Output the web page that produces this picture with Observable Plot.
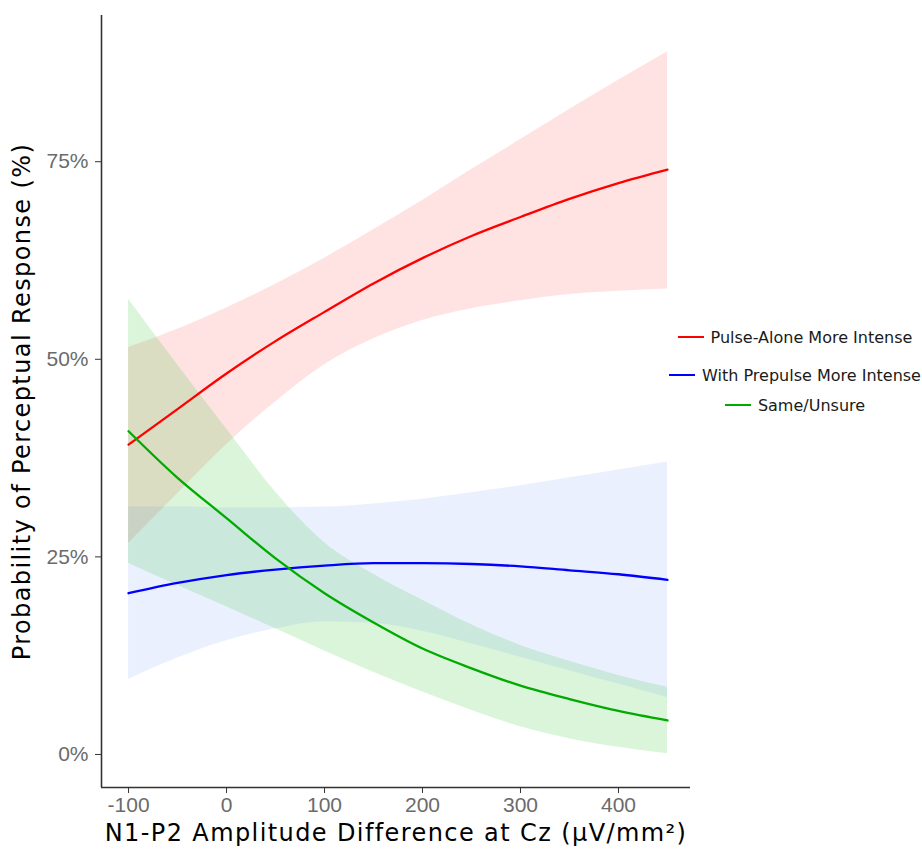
<!DOCTYPE html>
<html>
<head>
<meta charset="utf-8">
<script src="https://cdn.jsdelivr.net/npm/d3@7"></script>
<script src="https://cdn.jsdelivr.net/npm/@observablehq/plot@0.6"></script>
<style>
  html, body { margin: 0; padding: 0; background: #fff; }
  #wrap { position: relative; width: 922px; height: 850px; }
  #legend { position: absolute; left: 645px; top: 327px; width: 300px; display: flex; flex-direction: column; align-items: center; font-family: "DejaVu Sans", Verdana, sans-serif; font-size: 16px; color: #1a1a1a; }
  .item { display: flex; align-items: center; height: 20px; white-space: nowrap; }
  .swatch { width: 26px; height: 2.5px; margin-right: 7px; }
  g[aria-label="text"] text { letter-spacing: 1.4px; }
</style>
</head>
<body>
<div id="wrap"><div id="legend"></div></div>
<script>
const xs = [-100, -50, 0, 50, 100, 150, 200, 250, 300, 350, 400, 450];

const seriesNames = ["Pulse-Alone More Intense", "With Prepulse More Intense", "Same/Unsure"];
const lineColors = ["#ff0000", "#0000ff", "#00aa00"];
const fillColors = ["#ff2a2a", "#3d6dff", "#22c322"];
const fillOpacities = [0.13, 0.1, 0.16];

const redFit   = [39.2, 43.7, 48.2, 52.3, 56.0, 59.6, 62.8, 65.6, 68.0, 70.3, 72.3, 74.0];
const redLow   = [26.7, 33.0, 39.2, 44.6, 49.3, 52.6, 54.9, 56.4, 57.4, 58.2, 58.6, 58.9];
const redHigh  = [51.5, 53.8, 56.5, 59.5, 62.8, 66.4, 70.1, 74.0, 77.8, 81.6, 85.3, 88.9];

const blueFit  = [20.4, 21.7, 22.7, 23.4, 23.9, 24.2, 24.2, 24.1, 23.8, 23.3, 22.8, 22.1];
const blueLow  = [9.5, 12.2, 14.4, 15.9, 16.8, 16.6, 15.6, 14.0, 12.3, 10.6, 8.9, 7.2];
const blueHigh = [31.3, 31.3, 31.2, 31.2, 31.3, 31.7, 32.3, 33.1, 34.0, 35.0, 36.0, 37.0];

const greenFit  = [40.9, 35.0, 29.9, 24.8, 20.4, 16.7, 13.4, 10.9, 8.7, 7.0, 5.5, 4.3];
const greenLow  = [24.2, 21.4, 18.7, 15.9, 13.1, 10.4, 7.9, 5.6, 3.5, 2.0, 0.9, 0.1];
const greenHigh = [57.6, 49.3, 41.2, 33.2, 26.8, 22.8, 19.5, 16.4, 13.8, 11.8, 10.0, 8.5];

const xTicks = [-100, 0, 100, 200, 300, 400];
const yTicks = [0, 25, 50, 75];
const xDomain = [-127.6, 473.5];
const yDomain = [-4.18, 93.5];

const xTitle = "N1-P2 Amplitude Difference at Cz (µV/mm²)";
const yTitle = "Probability of Perceptual Response (%)";

const fits = [redFit, blueFit, greenFit];
const lows = [redLow, blueLow, greenLow];
const highs = [redHigh, blueHigh, greenHigh];

const rows = [];
seriesNames.forEach((s, i) => {
  xs.forEach((x, j) => rows.push({series: s, idx: i, x, fit: fits[i][j], lo: lows[i][j], hi: highs[i][j]}));
});

const byIdx = i => rows.filter(r => r.idx === i);

const marks = [];
[0, 1, 2].forEach(i => {
  marks.push(Plot.areaY(byIdx(i), {x: "x", y1: "lo", y2: "hi", fill: fillColors[i], fillOpacity: fillOpacities[i], curve: "monotone-x"}));
});
[0, 1, 2].forEach(i => {
  marks.push(Plot.lineY(byIdx(i), {x: "x", y: "fit", stroke: lineColors[i], strokeWidth: 2.3, curve: "monotone-x"}));
});

const chart = Plot.plot({
  width: 922,
  height: 850,
  marginLeft: 101,
  marginRight: 232,
  marginTop: 15,
  marginBottom: 63,
  style: {background: "transparent", fontFamily: "Liberation Sans, Arial, sans-serif", fontSize: "21px"},
  x: {domain: xDomain},
  y: {domain: yDomain},
  marks: [
    ...marks,
    Plot.ruleX([xDomain[0]], {stroke: "#333", strokeWidth: 1.6}),
    Plot.ruleY([yDomain[0]], {stroke: "#333", strokeWidth: 1.6}),
    Plot.axisX({ticks: xTicks, tickSize: 6, tickPadding: 4, tickFormat: d => String(d), fontSize: 21, fill: "#6b6b6b", stroke: "#333", label: null}),
    Plot.axisY({ticks: yTicks, tickSize: 6, tickPadding: 7, tickFormat: d => d + "%", fontSize: 21, fill: "#6b6b6b", stroke: "#333", label: null}),
    Plot.text([xTitle], {text: d => d, frameAnchor: "bottom", dy: 46, lineAnchor: "middle", textAnchor: "middle", fontSize: 24, fill: "#000", fontFamily: "DejaVu Sans, Verdana, sans-serif"}),
    Plot.text([yTitle], {text: d => d, frameAnchor: "left", dx: -79, rotate: -90, lineAnchor: "middle", textAnchor: "middle", fontSize: 24, fill: "#000", fontFamily: "DejaVu Sans, Verdana, sans-serif"})
  ]
});

const wrap = document.getElementById("wrap");
wrap.insertBefore(chart, wrap.firstChild);

const legend = document.getElementById("legend");
const gaps = [0, 18, 10];
seriesNames.forEach((s, i) => {
  const item = document.createElement("div");
  item.className = "item";
  item.style.marginTop = gaps[i] + "px";
  const sw = document.createElement("span");
  sw.className = "swatch";
  sw.style.background = lineColors[i];
  const t = document.createElement("span");
  t.textContent = s;
  item.appendChild(sw);
  item.appendChild(t);
  legend.appendChild(item);
});
</script>
</body>
</html>
